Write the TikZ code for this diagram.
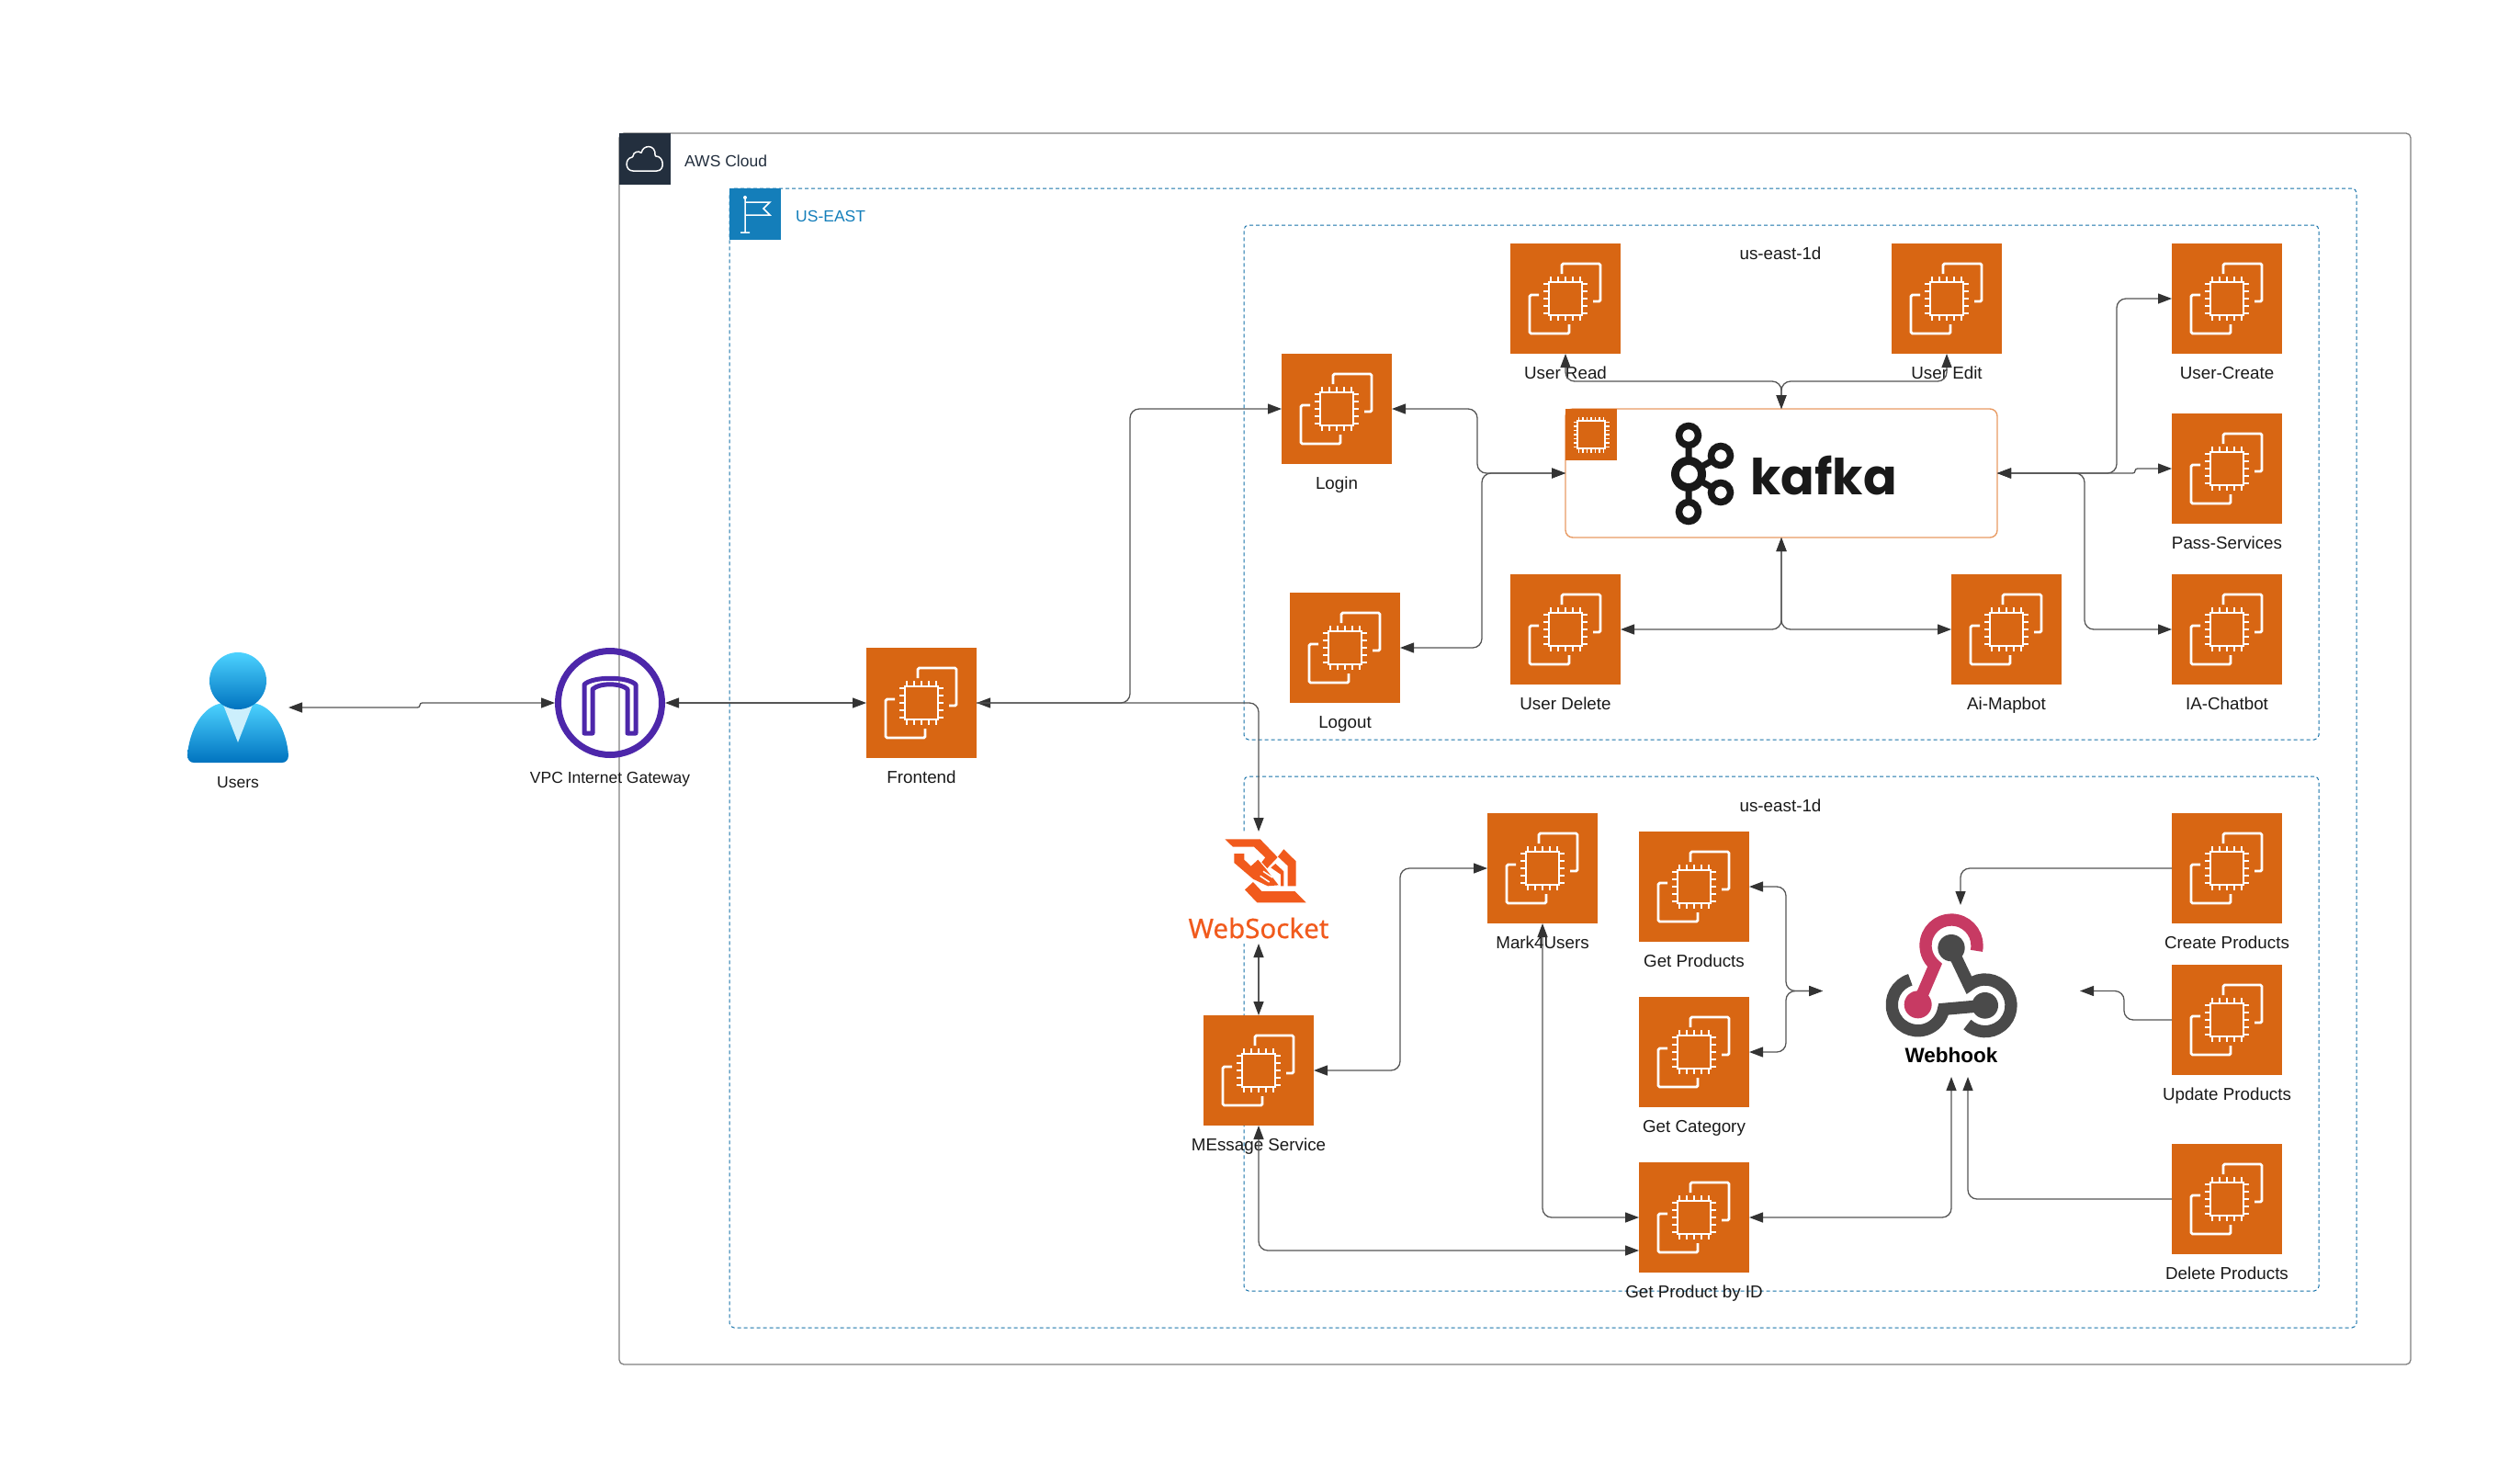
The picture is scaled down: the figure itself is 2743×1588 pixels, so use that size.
\documentclass[tikz,border=0pt]{standalone}
\usepackage{fontspec}
\setmainfont{Liberation Sans}
\newfontfamily\kafkafont{Poppins}
\newfontfamily\socketfont[FakeBold=0.5]{Noto Sans}
\usetikzlibrary{positioning,calc,arrows.meta}
\definecolor{awsorange}{RGB}{216,102,19}
\definecolor{awsnavy}{RGB}{35,47,62}
\definecolor{awsblue}{RGB}{20,126,186}
\definecolor{zoneline}{RGB}{20,112,168}
\definecolor{kafkaedge}{RGB}{232,155,100}
\definecolor{gatepurple}{RGB}{77,39,170}
\definecolor{linegray}{RGB}{85,85,85}
\definecolor{tipgray}{RGB}{51,51,51}
\definecolor{socketred}{RGB}{241,90,28}
\definecolor{hookpink}{RGB}{199,58,99}
\definecolor{hookgray}{RGB}{74,74,74}
\tikzset{
  awspicture/.style={
    x=1pt,y=-1pt
    ,>={Triangle[length=15pt,width=11pt,color=tipgray]}
    ,font=\fontsize{17.5}{21}\selectfont
  }
  ,container/.style={rectangle,inner sep=0pt,outer sep=0pt}
  ,cloudbox/.style={container,draw=gray,line width=1.3pt,rounded corners=5pt}
  ,zonebox/.style={container,draw=zoneline,line width=1pt,dash pattern=on 4pt off 3pt,rounded corners=5pt}
  ,tagbox/.style={container,minimum width=56pt,minimum height=56pt}
  ,ecbox/.style={container,fill=awsorange,minimum size=120pt}
  ,iconname/.style={inner sep=0pt,text height=18pt,text depth=4pt,text=black!90}
  ,ecname/.style={iconname,font=\fontsize{18.8}{22}\selectfont}
  ,kafkabox/.style={container,draw=kafkaedge,fill=white,line width=1.4pt,rounded corners=8pt
    ,minimum width=470pt,minimum height=140pt}
  ,gateway/.style={circle,draw=gatepurple,line width=7pt,inner sep=0pt,outer sep=3.5pt,minimum size=113pt}
  ,conn/.style={draw=linegray,line width=1.3pt,rounded corners=10pt}
  ,jog/.style={conn,rounded corners=2.5pt}
  ,ecicon/.pic={
    \draw[white,line width=2.8pt,rounded corners=1.5pt]
      (-4,-27) -- (-4,-38) -- (38,-38) -- (38,3) -- (30,3)
      (-29,-4) -- (-39,-4) -- (-39,38) -- (4,38) -- (4,28);
    \draw[white,line width=2.8pt] (-18,-18) rectangle (18,18);
    \foreach \p in {-16,-8,0,8,16}{
      \draw[white,line width=2.8pt] (\p,-18) -- (\p,-24) (\p,18) -- (\p,24)
        (-18,\p) -- (-24,\p) (18,\p) -- (24,\p);
    }
  }
}
\newcommand\ecnode[3]{
\node[ecbox] (#1) at (#2) {};
\pic at (#1.center) {ecicon};
\node[ecname,below=20pt of #1,anchor=center] (#1name) {#3};
}
\begin{document}
\begin{tikzpicture}[awspicture]
  \useasboundingbox (0,0) rectangle (2743,1588);
  % containers
  \node[cloudbox,minimum width=1950pt,minimum height=1340pt] (cloud) at (1649,815) {};
  \node[tagbox,fill=awsnavy] (cloudtag) at (702,173) {};
  \draw[white,line width=1.5pt,rounded corners=1pt]
    (690,186) .. controls (680,186) and (680,172) .. (689,171)
    .. controls (689,165) and (696,164) .. (698,167)
    .. controls (700,157) and (714,157) .. (713,170)
    .. controls (723,170) and (724,186) .. (714,186) -- cycle;
  \node[anchor=west,inner sep=0pt,text=awsnavy] (cloudname) at (745,175) {AWS Cloud};
  \node[zonebox,minimum width=1771pt,minimum height=1240pt] (region) at (1679.5,825) {};
  \node[tagbox,fill=awsblue] (regiontag) at (822,233) {};
  \draw[white,line width=1.5pt]
    (811,215) -- (811,253) (806,253) -- (816,253)
    (811,220) -- (838,220) -- (831,227) -- (838,234) -- (811,234);
  \fill[white] (811,215) circle (2);
  \node[anchor=west,inner sep=0pt,text=awsblue] (regionname) at (866,235) {US-EAST};
  \node[zonebox,minimum width=1170pt,minimum height=560pt] (zonea) at (1939,525) {};
  \node[zonebox,minimum width=1170pt,minimum height=560pt] (zoneb) at (1939,1125) {};
  \node[ecname] (zoneaname) at (1938,275) {us-east-1d};
  \node[ecname] (zonebname) at (1938,876) {us-east-1d};

  % users
  \node[container,minimum width=110pt,minimum height=120pt] (users) at (259,770) {};
  \path[top color=cyan!75!blue!70!white,bottom color=cyan!60!blue!75!black]
    (204,822) .. controls (206,795) and (220,768) .. (243,765) -- (275,765)
    .. controls (298,768) and (312,795) .. (314,822)
    .. controls (314,827) and (311,830) .. (307,830) -- (211,830)
    .. controls (207,830) and (204,827) .. (204,822) -- cycle;
  \fill[cyan!20] (243,767) -- (275,767) -- (259,808) -- cycle;
  \path[top color=cyan!75!blue!70!white,bottom color=cyan!60!blue!75!black] (259,741) circle (31);
  \node[iconname] (usersname) at (259,850) {Users};

  % gateway
  \node[gateway] (gatewayicon) at (664,765) {};
  \draw[gatepurple,line width=5pt,line join=round]
    (636,798) -- (636,745) .. controls (645,736) and (683,736) .. (692,745) -- (692,798)
    -- (683,798) -- (683,750) .. controls (675,743) and (653,743) .. (645,750) -- (645,798) -- cycle;
  \node[iconname] (gatewayname) at (664,845) {VPC Internet Gateway};

  % frontend
  \ecnode{frontend}{1003,765}{Frontend}

  % upper zone
  \ecnode{login}{1455,445}{Login}
  \ecnode{logout}{1464,705}{Logout}
  \ecnode{userread}{1704,325}{User Read}
  \ecnode{useredit}{2119,325}{User Edit}
  \ecnode{userdelete}{1704,685}{User Delete}
  \ecnode{mapbot}{2184,685}{Ai-Mapbot}
  \ecnode{usercreate}{2424,325}{User-Create}
  \ecnode{passserv}{2424,510}{Pass-Services}
  \ecnode{chatbot}{2424,685}{IA-Chatbot}

  % kafka
  \node[kafkabox] (kafka) at (1939,515) {};
  \node[tagbox,fill=awsorange] (kafkatag) at (1732,473) {};
  \draw[white,line width=1.3pt] (1717,458) rectangle (1747,488);
  \foreach \p in {-13.5,-9,-4.5,0,4.5,9,13.5}{
    \draw[white,line width=1.2pt] (1732+\p,458) -- (1732+\p,453.5) (1732+\p,488) -- (1732+\p,492.5)
      (1717,473+\p) -- (1712.5,473+\p) (1747,473+\p) -- (1751.5,473+\p);
  }
  \begin{scope}[black!90]
    \draw[line width=7pt] (1838,474) -- (1838,557) (1838,516) -- (1873,496) (1838,516) -- (1873,536);
    \draw[line width=9pt,fill=white] (1838,516) circle (14.5);
    \foreach \p/\q in {1838/474,1838/557,1873/496,1873/536}{
      \draw[line width=7.5pt,fill=white] (\p,\q) circle (10.5);
    }
  \end{scope}
  \node[anchor=base,inner sep=0pt,text=black!90,font=\kafkafont\fontsize{54}{60}\selectfont\bfseries] (kafkaname) at (1985,538) {kafka};

  % lower zone
  \ecnode{mark}{1679,945}{Mark4Users}
  \ecnode{getprod}{1844,965}{Get Products}
  \ecnode{getcat}{1844,1145}{Get Category}
  \ecnode{getid}{1844,1325}{Get Product by ID}
  \ecnode{message}{1370,1165}{MEssage Service}
  \ecnode{createprod}{2424,945}{Create Products}
  \ecnode{updateprod}{2424,1110}{Update Products}
  \ecnode{deleteprod}{2424,1305}{Delete Products}

  % websocket
  \node[container,fill=white,minimum width=160pt,minimum height=122pt] (websocket) at (1370,966) {};
  \begin{scope}[shift={(1320,905)},x=.3333pt,y=-.3333pt,socketred]
    \fill (40,25) -- (155,25) -- (212,84) -- (178,120) -- (160,100) -- (172,85) -- (135,50) -- (66,50) -- cycle;
    \fill (70,72) -- (103,72) -- (103,92) -- (125,113) -- (148,92) -- (172,120) -- (215,175) -- (180,178) -- (132,155) -- (70,102) -- cycle;
    \fill (232,58) -- (272,97) -- (272,178) -- (245,178) -- (245,112) -- (213,82) -- cycle;
    \fill (205,105) -- (232,130) -- (232,178) -- (222,178) -- (222,140) -- (190,118) -- cycle;
    \fill (132,165) -- (105,190) -- (145,232) -- (305,232) -- (268,195) -- (160,195) -- cycle;
    \draw[white,line width=1.5pt] (165,130) -- (195,150) (155,145) -- (185,165);
  \end{scope}
  \node[inner sep=0pt,text=socketred,font=\socketfont\fontsize{29.5}{34}\selectfont] (websocketname) at (1370,1010) {WebSocket};

  % webhook
  \node[container,minimum width=280pt,minimum height=187pt] (webhook) at (2124,1078.5) {};
  \begin{scope}[shift={(2040,985)},x=.3333pt,y=-.3333pt]
    \draw[hookpink,line width=13.3pt] (252+82.2,132+17.5) arc[start angle=12,end angle=-230,radius=84] -- (143,325);
    \fill[hookpink] (143,325) circle (45);
    \draw[hookgray,line width=13.3pt] (143-25,325-81) arc[start angle=-107,end angle=-350,radius=85] -- (362,328);
    \draw[hookgray,line width=13.3pt] (252,140) -- (309.7,261) arc[start angle=-128,end angle=133,radius=85];
    \fill[hookgray] (252,140) circle (44);
    \fill[hookgray] (362,328) circle (43);
  \end{scope}
  \node[inner sep=0pt,text=black,font=\fontsize{22.5}{27}\selectfont\bfseries] (webhookname) at (2124,1148) {Webhook};

  % connectors
  \draw[jog,<->] (users.east) -- ++(143,0) |- (gatewayicon.west);
  \draw[conn,<->] (gatewayicon.east) -- (frontend.west);
  \draw[conn,<->] (frontend.east) -- ++(167,0) |- (login.west);
  \draw[conn,->] (frontend.east) -| (websocket.north);
  \draw[conn,<->] (login.east) -- ++(93,0) |- (kafka.west);
  \draw[conn,<->] (logout.east) -- ++(89,0) |- (kafka.west);
  \draw[conn,<->] (userread.south) -- ++(0,30) -| (kafka.north);
  \draw[conn,<->] (useredit.south) -- ++(0,30) -| (kafka.north);
  \draw[conn,<->] (kafka.south) |- (userdelete.east);
  \draw[conn,<->] (kafka.south) |- (mapbot.west);
  \draw[conn,<->] (kafka.east) -- ++(130,0) |- (usercreate.west);
  \draw[jog,<->] (kafka.east) -- ++(150,0) |- (passserv.west);
  \draw[conn,<->] (kafka.east) -- ++(95,0) |- (chatbot.west);
  \draw[conn,<->] (websocket.south) -- (message.north);
  \draw[conn,<->] (message.east) -- ++(94,0) |- (mark.west);
  \draw[conn,<->] (mark.south) |- (getid.west);
  \draw[conn,<->] (message.south) |- ($(getid.west)+(0,36)$);
  \draw[conn,<->] (getprod.east) -- ++(40,0) |- (webhook.west);
  \draw[conn,<->] (getcat.east) -- ++(40,0) |- (webhook.west);
  \draw[conn,<->] (getid.east) -| (webhook.south);
  \draw[conn,->] (createprod.west) -| ($(webhook.north)+(10,0)$);
  \draw[conn,->] (updateprod.west) -- ++(-52,0) |- (webhook.east);
  \draw[conn,->] (deleteprod.west) -| ($(webhook.south)+(18,0)$);
\end{tikzpicture}
\end{document}
